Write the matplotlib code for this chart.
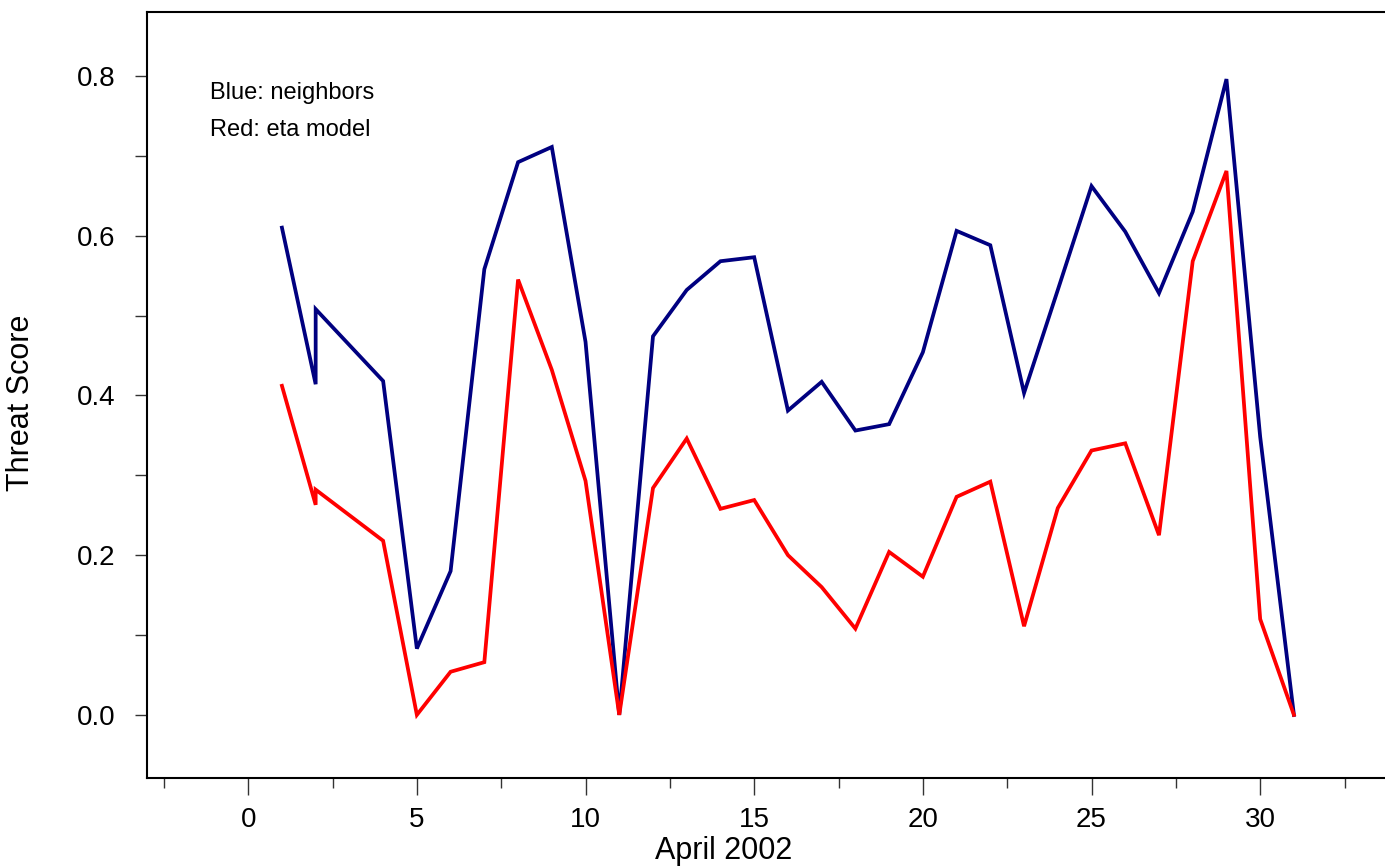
import matplotlib
matplotlib.use("Agg")
import matplotlib.pyplot as plt
from matplotlib.ticker import MultipleLocator

plt.rcParams['font.family'] = ['Liberation Sans', 'DejaVu Sans']

# April 2002 days (day 2 appears twice in the source data)
days = [1, 2, 2, 4, 5, 6, 7, 8, 9, 10, 11, 12, 13, 14, 15, 16, 17, 18, 19, 20,
        21, 22, 23, 24, 25, 26, 27, 28, 29, 30, 31]
neighbors = [0.610, 0.414, 0.508, 0.418, 0.083, 0.180, 0.558, 0.692, 0.711, 0.467,
             0.000, 0.474, 0.532, 0.568, 0.573, 0.381, 0.417, 0.356, 0.364, 0.454,
             0.606, 0.588, 0.403, 0.532, 0.662, 0.605, 0.528, 0.630, 0.796, 0.348,
             0.000]
eta_model = [0.412, 0.263, 0.282, 0.218, 0.000, 0.054, 0.066, 0.545, 0.432, 0.293,
             0.000, 0.284, 0.346, 0.258, 0.269, 0.200, 0.160, 0.108, 0.204, 0.173,
             0.273, 0.292, 0.111, 0.259, 0.331, 0.340, 0.225, 0.568, 0.681, 0.120,
             0.000]

fig = plt.figure(figsize=(13.85, 8.67), dpi=100)
ax = fig.add_axes([147/1385, 1 - 778/867, 1 - 147/1385, (778 - 12)/867])

ax.plot(days, neighbors, color='#000080', lw=2.7, solid_joinstyle='miter')
ax.plot(days, eta_model, color='#ff0000', lw=2.7, solid_joinstyle='miter')

ax.set_xlim(-3, 33.7)
ax.set_ylim(-0.079, 0.88)

ax.xaxis.set_major_locator(MultipleLocator(5))
ax.xaxis.set_minor_locator(MultipleLocator(2.5))
ax.yaxis.set_major_locator(MultipleLocator(0.2))
ax.yaxis.set_minor_locator(MultipleLocator(0.1))
ax.set_xticks(range(0, 31, 5))
ax.set_xticklabels([str(v) for v in range(0, 31, 5)])
ax.set_yticks([0.0, 0.2, 0.4, 0.6, 0.8])
ax.set_yticklabels(['0.0', '0.2', '0.4', '0.6', '0.8'])

ax.tick_params(axis='both', which='major', direction='out', length=12, width=1.0,
               color='#333333', labelsize=20, pad=9)
ax.tick_params(axis='both', which='minor', direction='out', length=7, width=1.0,
               color='#333333')
ax.tick_params(axis='y', which='major', length=9, pad=14)
ax.tick_params(axis='y', which='minor', length=9)

for s in ['left', 'bottom', 'top']:
    ax.spines[s].set_linewidth(1.5)
    ax.spines[s].set_color('black')
ax.spines['right'].set_visible(False)

ax.set_xlabel('April 2002', fontsize=22, va='baseline')
ax.xaxis.set_label_coords((724 - 147) / 1238, -(859 - 778) / 766)
ax.set_ylabel('Threat Score', fontsize=22)
ax.yaxis.set_label_coords(-(147 - 36) / 1238, 0.49)

ax.text((210 - 147) / 1238, 1 - (93 - 12) / 766, 'Blue: neighbors', fontsize=17,
        transform=ax.transAxes, va='center', ha='left')
ax.text((210 - 147) / 1238, 1 - (130 - 12) / 766, 'Red: eta model', fontsize=17,
        transform=ax.transAxes, va='center', ha='left')

fig.savefig('out.png', dpi=100)
